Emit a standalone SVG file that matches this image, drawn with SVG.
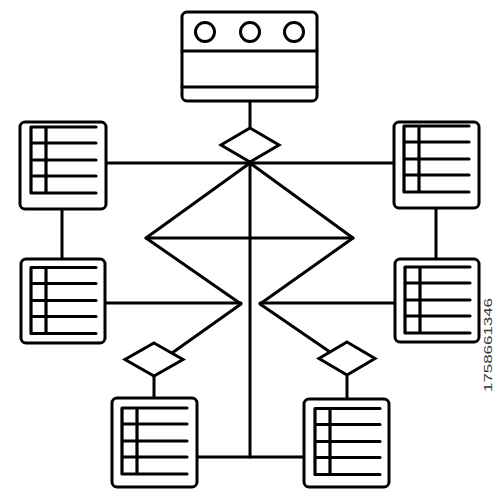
<svg xmlns="http://www.w3.org/2000/svg" width="500" height="500" viewBox="0 0 500 500">
<style>
.s{fill:none;stroke:#000;stroke-width:3;stroke-linecap:round;stroke-linejoin:round}
.b{fill:#fff;stroke:#000;stroke-width:3}
.t{fill:none;stroke:#000;stroke-width:3.2;stroke-linecap:round}
.wm{font-family:"Liberation Sans",Arial,sans-serif;font-size:11px;fill:#333}
</style>
<defs>
<g id="table">
<path class="t" d="M0,0H65M0,16H65M0,33H65M0,49H65M0,66H65M0,0V66M15,0V66"/>
</g>
</defs>
<rect width="500" height="500" fill="#fff"/>
<g id="connectors" class="s">
<path d="M106,163H394"/>
<path d="M62,209V259"/>
<path d="M436,208V259"/>
<path d="M105,303H241"/>
<path d="M260,303H395"/>
<path d="M250,163V457"/>
<path d="M250,163L146,238L241,304L172,353"/>
<path d="M250,163L353,238L260,304L330,352"/>
<path d="M146,238H353"/>
<path d="M197,457H304"/>
<path d="M250,101V128"/>
<path d="M154,376V398"/>
<path d="M347,375V399"/>
</g>
<g id="main-entity">
<rect class="b" x="182" y="12" width="135" height="89" rx="5"/>
<path class="s" d="M182,51H317M182,87H317"/>
<circle class="b" cx="205" cy="32" r="9.5"/>
<circle class="b" cx="250" cy="32" r="9.5"/>
<circle class="b" cx="294" cy="32" r="9.5"/>
</g>
<g id="diamond-top"><polygon class="b" points="250,128 279,145 250,162 221,145"/></g>
<g id="diamond-left"><polygon class="b" points="154,343 183,359.5 154,376 125,359.5"/></g>
<g id="diamond-right"><polygon class="b" points="347,342 375,358.5 347,375 319,358.5"/></g>
<g id="table-tl">
<rect class="b" x="20" y="122" width="86" height="87" rx="5"/>
<use href="#table" x="31" y="127"/>
</g>
<g id="table-ml">
<rect class="b" x="21" y="259" width="84" height="84" rx="5"/>
<use href="#table" x="31" y="267.5"/>
</g>
<g id="table-tr">
<rect class="b" x="394" y="122" width="85" height="86" rx="5"/>
<use href="#table" x="404" y="126"/>
</g>
<g id="table-mr">
<rect class="b" x="395" y="259" width="84" height="83" rx="5"/>
<use href="#table" x="405" y="267"/>
</g>
<g id="table-bl">
<rect class="b" x="112" y="398" width="85" height="89" rx="5"/>
<use href="#table" x="122" y="408"/>
</g>
<g id="table-br">
<rect class="b" x="304" y="399" width="85" height="88" rx="5"/>
<use href="#table" x="315" y="408.5"/>
</g>
<text class="wm" transform="translate(492,345) rotate(-90)" text-anchor="middle" textLength="94" lengthAdjust="spacingAndGlyphs">1758661346</text>
</svg>
